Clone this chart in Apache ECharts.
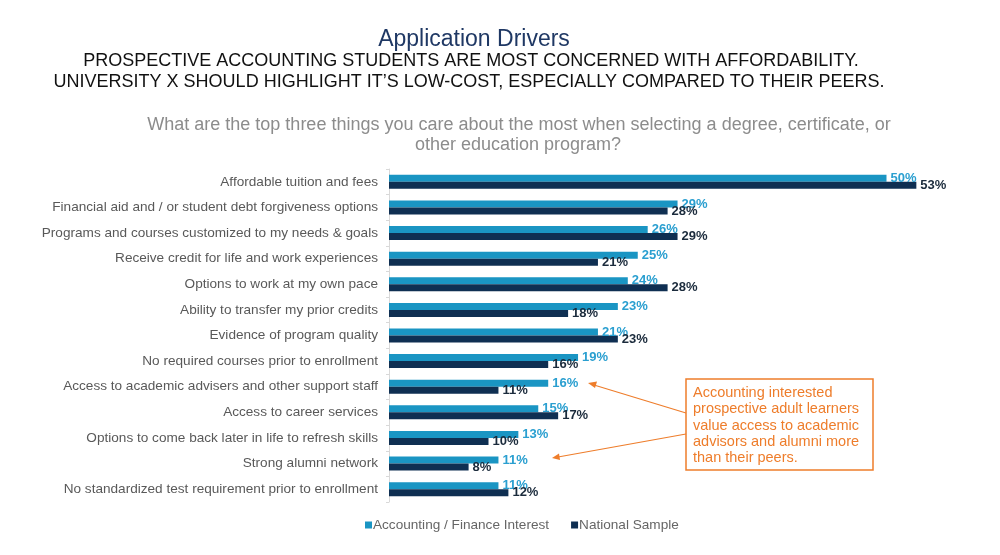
<!DOCTYPE html>
<html><head><meta charset="utf-8">
<script src="https://cdn.jsdelivr.net/npm/echarts@6/dist/echarts.min.js"></script>
<style>html,body{margin:0;padding:0;background:#fff}#c{width:1000px;height:555px}</style>
</head><body><div id="c"></div>
<script>
const categories = [
  "Affordable tuition and fees",
  "Financial aid and / or student debt forgiveness options",
  "Programs and courses customized to my needs & goals",
  "Receive credit for life and work experiences",
  "Options to work at my own pace",
  "Ability to transfer my prior credits",
  "Evidence of program quality",
  "No required courses prior to enrollment",
  "Access to academic advisers and other support staff",
  "Access to career services",
  "Options to come back later in life to refresh skills",
  "Strong alumni network",
  "No standardized test requirement prior to enrollment"
];
const accountingValues = [50, 29, 26, 25, 24, 23, 21, 19, 16, 15, 13, 11, 11];
const nationalValues   = [53, 28, 29, 21, 28, 18, 23, 16, 11, 17, 10, 8, 12];
const seriesNames = ["Accounting / Finance Interest", "National Sample"];

const FONT = '"Liberation Sans", Arial, sans-serif';
const chart = echarts.init(document.getElementById('c'), null, {renderer: 'canvas'});
const orange = '#ee7d2b';
chart.setOption({
  animation: false,
  backgroundColor: '#ffffff',
  textStyle: {fontFamily: FONT},
  grid: {left: 389, right: 14, top: 169, bottom: 53, containLabel: false},
  xAxis: {type: 'value', min: 0, max: 60, show: false},
  yAxis: {
    type: 'category', data: categories, inverse: true,
    axisLine: {show: true, lineStyle: {color: '#d9d9d9', width: 1}},
    axisTick: {show: true, length: 3, lineStyle: {color: '#d9d9d9'}},
    axisLabel: {color: '#595959', fontSize: 13.6, fontFamily: FONT, margin: 11}
  },
  legend: {
    data: seriesNames, left: 360, top: 513, itemWidth: 7, itemHeight: 7, itemGap: 22,
    icon: 'rect', textStyle: {color: '#666666', fontSize: 13.6, fontFamily: FONT, padding: [0,0,0,-4]}
  },
  series: [
    {
      name: seriesNames[0], type: 'bar', data: accountingValues, barWidth: 7, barGap: '0%',
      itemStyle: {color: '#1a95c3'},
      label: {show: true, position: 'right', distance: 4, formatter: '{c}%', color: '#2a9fd0',
        fontWeight: 'bold', fontSize: 13, fontFamily: FONT}
    },
    {
      name: seriesNames[1], type: 'bar', data: nationalValues, barWidth: 7, barGap: '0%',
      itemStyle: {color: '#0f2f52'},
      label: {show: true, position: 'right', distance: 4, formatter: '{c}%', color: '#1b2b3c',
        fontWeight: 'bold', fontSize: 13, fontFamily: FONT}
    }
  ],
  graphic: [
    {type: 'text', x: 474, y: 40, style: {text: 'Application Drivers', fill: '#1f3864', font: '23px ' + FONT, textAlign: 'center', textVerticalAlign: 'middle'}},
    {type: 'text', x: 471, y: 61, style: {text: 'PROSPECTIVE ACCOUNTING STUDENTS ARE MOST CONCERNED WITH AFFORDABILITY.', fill: '#111111', font: '18px ' + FONT, textAlign: 'center', textVerticalAlign: 'middle'}},
    {type: 'text', x: 469, y: 82, style: {text: 'UNIVERSITY X SHOULD HIGHLIGHT IT\u2019S LOW-COST, ESPECIALLY COMPARED TO THEIR PEERS.', fill: '#111111', font: '18px ' + FONT, textAlign: 'center', textVerticalAlign: 'middle'}},
    {type: 'text', x: 519, y: 125, style: {text: 'What are the top three things you care about the most when selecting a degree, certificate, or', fill: '#8c8c8c', font: '18px ' + FONT, textAlign: 'center', textVerticalAlign: 'middle'}},
    {type: 'text', x: 518, y: 145, style: {text: 'other education program?', fill: '#8c8c8c', font: '18px ' + FONT, textAlign: 'center', textVerticalAlign: 'middle'}},
    {type: 'rect', shape: {x: 686, y: 379, width: 187, height: 91}, style: {fill: '#ffffff', stroke: orange, lineWidth: 1.5}},
    {type: 'text', x: 693, y: 385, style: {text: 'Accounting interested\nprospective adult learners\nvalue access to academic\nadvisors and alumni more\nthan their peers.', fill: orange, font: '14.5px ' + FONT, lineHeight: 16.3}},
    {type: 'line', shape: {x1: 686, y1: 413, x2: 594, y2: 385}, style: {stroke: orange, lineWidth: 1.2}},
    {type: 'polygon', shape: {points: [[588, 383], [597, 381.5], [595, 388]]}, style: {fill: orange}},
    {type: 'line', shape: {x1: 686, y1: 434, x2: 558, y2: 457}, style: {stroke: orange, lineWidth: 1.2}},
    {type: 'polygon', shape: {points: [[552, 458], [559, 453.5], [560, 460]]}, style: {fill: orange}}
  ]
});
</script></body></html>
